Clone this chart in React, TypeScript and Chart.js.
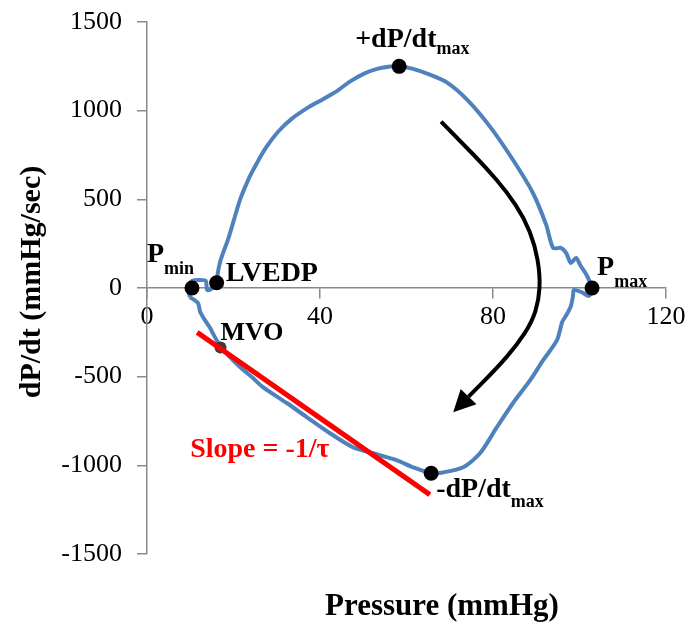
import React, { useEffect, useRef } from "react";
import { Chart, registerables } from "chart.js";

Chart.register(...registerables);

const FAMILY = "'Liberation Serif', 'Times New Roman', serif";

// Pressure-dP/dt loop (mmHg, mmHg/sec)
const loopPressure = [
  9.9, 9.5, 10.4, 12.3, 13.6, 13.9, 14.8, 16.0, 16.4, 16.9, 17.6, 18.7, 20.1, 21.5, 23.4, 25.2, 27.5, 30.3,
  33.5, 37.2, 40.5, 43.7, 46.9, 50.2, 53.4, 56.2, 58.3, 61.3, 65.4, 69.4, 74.0, 79.3, 84.6, 89.2, 92.3, 93.9,
  95.7, 96.9, 98.0, 99.2, 100.3, 101.5, 102.4, 102.9, 102.2, 100.6, 98.7, 98.5, 98.0, 97.1, 96.0, 94.8, 91.6,
  88.6, 84.6, 80.9, 77.0, 73.1, 68.4, 65.7, 61.5, 57.8, 52.3, 47.6, 42.3, 37.0, 32.4, 26.8, 24.5, 21.5, 19.2,
  17.1, 15.7, 14.6, 13.4, 12.3, 11.8, 9.9,
];
const loopDpdt = [
  -51, 6, 40, 45, 40, -11, -6, 28, 90, 147, 198, 271, 384, 497, 610, 695, 791, 881,
  955, 1017, 1062, 1107, 1164, 1209, 1237, 1249, 1250, 1237, 1203, 1158, 1062, 910, 723, 537, 356, 226,
  226, 198, 141, 169, 124, 79, 34, 0, -45, -25, -11, -45, -102, -147, -192, -294, -407,
  -520, -650, -785, -932, -1011, -1040, -1045, -1011, -972, -932, -898, -819, -729, -650, -559, -508, -446, -390,
  -333, -277, -226, -181, -136, -85, -51,
];

// Key points
const keyNames = ["Pmin", "LVEDP", "+dP/dtmax", "Pmax", "-dP/dtmax", "MVO"];
const keyPressure = [10.4, 16.1, 58.3, 102.9, 65.7, 17.0];
const keyDpdt = [0, 30, 1250, 0, -1045, -335];

// Relaxation slope line
const slopePressure = [11.6, 65.4];
const slopeDpdt = [-250, -1165];

// Curved direction arrow
const arrowPressure = [68.0, 72.8, 78.2, 83.2, 87.2, 89.7, 90.9, 90.6, 89.0, 85.5, 80.9, 75.8, 70.8];
const arrowDpdt = [938, 819, 684, 542, 395, 243, 73, -68, -192, -322, -452, -576, -701];

const xTitle = "Pressure (mmHg)";
const yTitle = "dP/dt (mmHg/sec)";
const slopeText = "Slope = -1/\u03C4";

// label layout (pixel offsets from key points)
const keyLabels = [
  { main: "P", sub: "min", dx: -45, dy: -26, subDy: 12, size: 28 },
  { main: "LVEDP", sub: "", dx: 9, dy: -2, subDy: 0, size: 28 },
  { main: "+dP/dt", sub: "max", dx: -44, dy: -19, subDy: 7, size: 28 },
  { main: "P", sub: "max", dx: 5, dy: -13, subDy: 12, size: 28 },
  { main: "-dP/dt", sub: "max", dx: 5, dy: 24, subDy: 10, size: 28 },
  { main: "MVO", sub: "", dx: 0, dy: -7, subDy: 0, size: 26 },
];

const AXIS_GRAY = "#898989";

const annotPlugin = {
  id: "annot",
  afterDatasetsDraw(chart: any) {
    const { ctx, scales } = chart;
    const xs = scales.x;
    const ys = scales.y;
    ctx.save();
    // arrow
    const pts = arrowPressure.map((p, i) => ({ x: xs.getPixelForValue(p), y: ys.getPixelForValue(arrowDpdt[i]) }));
    const tip = pts[pts.length - 1];
    const prev = pts[pts.length - 2];
    const ang = Math.atan2(tip.y - prev.y, tip.x - prev.x);
    const headLen = 22;
    const headW = 11;
    const base = { x: tip.x - headLen * Math.cos(ang), y: tip.y - headLen * Math.sin(ang) };
    const shaft = pts.slice(0, -2).concat([base]);
    ctx.strokeStyle = "#000";
    ctx.fillStyle = "#000";
    ctx.lineWidth = 4;
    ctx.lineJoin = "round";
    ctx.beginPath();
    ctx.moveTo(shaft[0].x, shaft[0].y);
    for (let i = 1; i < shaft.length - 1; i++) {
      const mx = (shaft[i].x + shaft[i + 1].x) / 2;
      const my = (shaft[i].y + shaft[i + 1].y) / 2;
      ctx.quadraticCurveTo(shaft[i].x, shaft[i].y, mx, my);
    }
    ctx.lineTo(shaft[shaft.length - 1].x, shaft[shaft.length - 1].y);
    ctx.stroke();
    ctx.beginPath();
    ctx.moveTo(tip.x, tip.y);
    ctx.lineTo(base.x + headW * Math.sin(ang), base.y - headW * Math.cos(ang));
    ctx.lineTo(base.x - headW * Math.sin(ang), base.y + headW * Math.cos(ang));
    ctx.closePath();
    ctx.fill();

    // key point labels
    ctx.textAlign = "left";
    ctx.textBaseline = "alphabetic";
    keyLabels.forEach((l, i) => {
      const px = xs.getPixelForValue(keyPressure[i]);
      const py = ys.getPixelForValue(keyDpdt[i]);
      ctx.font = `bold ${l.size}px ${FAMILY}`;
      ctx.fillText(l.main, px + l.dx, py + l.dy);
      if (l.sub) {
        const w = ctx.measureText(l.main).width;
        ctx.font = `bold 18px ${FAMILY}`;
        ctx.fillText(l.sub, px + l.dx + w, py + l.dy + l.subDy);
      }
    });

    // slope label
    const sx = xs.getPixelForValue(slopePressure[0]);
    const sy = ys.getPixelForValue(slopeDpdt[0]);
    ctx.fillStyle = "#ff0000";
    ctx.font = `bold 28px ${FAMILY}`;
    ctx.fillText(slopeText, sx - 7, sy + 125);

    // axis titles
    ctx.fillStyle = "#000";
    ctx.font = `bold 31px ${FAMILY}`;
    ctx.textAlign = "left";
    ctx.fillText(xTitle, 325, 615);
    ctx.font = `bold 30px ${FAMILY}`;
    ctx.translate(40, 282);
    ctx.rotate(-Math.PI / 2);
    ctx.textAlign = "center";
    ctx.fillText(yTitle, 0, 0);
    ctx.restore();
  },
};

export default function App() {
  const ref = useRef<HTMLCanvasElement | null>(null);
  useEffect(() => {
    if (!ref.current) return;
    Chart.defaults.font.family = FAMILY;
    const chart = new Chart(ref.current, {
      type: "scatter",
      data: {
        datasets: [
          {
            label: "slope",
            data: slopePressure.map((p, i) => ({ x: p, y: slopeDpdt[i] })),
            showLine: true,
            borderColor: "#ff0000",
            borderWidth: 5,
            pointRadius: 0,
          },
          {
            label: "key points",
            data: keyPressure.map((p, i) => ({ x: p, y: keyDpdt[i] })),
            showLine: false,
            pointRadius: keyNames.map((n) => (n === "MVO" ? 6 : 7.5)),
            backgroundColor: keyNames.map((n) => (n === "MVO" ? "#3c3c3c" : "#000000")),
            borderWidth: 0,
          },
          {
            label: "loop",
            data: loopPressure.map((p, i) => ({ x: p, y: loopDpdt[i] })),
            showLine: true,
            borderColor: "#4f81bd",
            borderWidth: 4,
            pointRadius: 0,
            tension: 0.25,
          },
        ],
      },
      options: {
        animation: false,
        responsive: false,
        layout: { padding: { left: 0, top: 22, right: 25, bottom: 71 } },
        plugins: { legend: { display: false }, tooltip: { enabled: false } },
        scales: {
          x: {
            type: "linear",
            position: { y: 0 } as any,
            min: 0,
            max: 120,
            ticks: { stepSize: 40, color: "#000", font: { size: 26 }, padding: 4, maxRotation: 0 },
            grid: { drawOnChartArea: false, drawTicks: true, tickLength: 10, color: AXIS_GRAY, lineWidth: 1.5 },
            border: { display: true, color: AXIS_GRAY, width: 1.5 },
          },
          y: {
            type: "linear",
            position: "left",
            min: -1500,
            max: 1500,
            ticks: {
              stepSize: 500,
              color: "#000",
              font: { size: 26 },
              padding: 15,
              callback: (v: any) => String(v),
            },
            grid: { drawOnChartArea: false, drawTicks: true, tickLength: 10, color: AXIS_GRAY, lineWidth: 1.5 },
            border: { display: true, color: AXIS_GRAY, width: 1.5 },
            afterFit: (s: any) => {
              s.width = 147;
              s.paddingTop = 10;
              s.paddingBottom = 10;
            },
          },
        },
      },
      plugins: [annotPlugin],
    });
    return () => chart.destroy();
  }, []);
  return (
    <div style={{ position: "absolute", left: 0, top: 0, width: 691, height: 625, background: "#fff" }}>
      <canvas ref={ref} width={691} height={625} style={{ display: "block" }} />
    </div>
  );
}
